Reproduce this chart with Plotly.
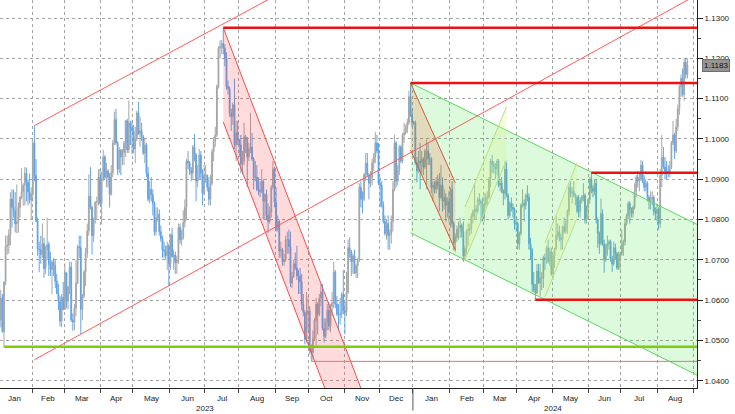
import numpy as np
import pandas as pd
import plotly.graph_objects as go

# ---------------- data (EUR/USD daily) ----------------
START = "2023-01-02"
FIRST_OPEN = 1.0705

highs = [
    # 2023 Jan
    1.0713, 1.0684, 1.0625, 1.0615, 1.0646, 1.0760, 1.0760, 1.0776, 1.0868, 1.0875, 1.0874,
    1.0868, 1.0887, 1.0842, 1.0858, 1.0927, 1.0890, 1.0930, 1.0929, 1.0900, 1.0914, 1.0880,
    # Feb
    1.0995, 1.1033, 1.0950, 1.0805, 1.0745, 1.0760, 1.0790, 1.0755, 1.0735, 1.0805,
    1.0745, 1.0720, 1.0700, 1.0705, 1.0700, 1.0665, 1.0640, 1.0610, 1.0615, 1.0645,
    # Mar
    1.0691, 1.0670, 1.0635, 1.0695, 1.0695, 1.0567, 1.0590, 1.0700, 1.0737, 1.0760, 1.0760, 1.0615,
    1.0675, 1.0730, 1.0790, 1.0912, 1.0930, 1.0835, 1.0805, 1.0845, 1.0857, 1.0925, 1.0925,
    # Apr
    1.0918, 1.0973, 1.0960, 1.0940, 1.0925, 1.0915, 1.0935, 1.0998, 1.1068, 1.1075,
    1.0995, 1.0980, 1.0975, 1.0975, 1.0995, 1.1047, 1.1050, 1.1095, 1.1045, 1.1045,
    # May
    1.1035, 1.1030, 1.1070, 1.1092, 1.1055, 1.1040, 1.1010, 1.1000, 1.0990, 1.0930, 1.0895, 1.0905,
    1.0875, 1.0845, 1.0830, 1.0830, 1.0825, 1.0785, 1.0760, 1.0745, 1.0735, 1.0745, 1.0740,
    # Jun
    1.0765, 1.0780, 1.0725, 1.0720, 1.0710, 1.0790, 1.0790, 1.0775, 1.0823, 1.0850, 1.0950,
    1.0970, 1.0945, 1.0930, 1.0985, 1.1012, 1.0965, 1.0935, 1.0975, 1.0970, 1.0925, 1.0935,
    # Jul
    1.0935, 1.0912, 1.0905, 1.0910, 1.0975, 1.1005, 1.1030, 1.1135, 1.1230, 1.1245, 1.1245,
    1.1276, 1.1235, 1.1215, 1.1145, 1.1130, 1.1075, 1.1090, 1.1150, 1.1045, 1.1045,
    # Aug
    1.1000, 1.1010, 1.0970, 1.1040, 1.1010, 1.1005, 1.0990, 1.1065, 1.1015, 1.0955, 1.0945, 1.0935,
    1.0905, 1.0895, 1.0925, 1.0900, 1.0865, 1.0875, 1.0840, 1.0832, 1.0885, 1.0945, 1.0930,
    # Sep
    1.0880, 1.0810, 1.0800, 1.0745, 1.0730, 1.0715, 1.0760, 1.0770, 1.0775, 1.0770, 1.0670,
    1.0700, 1.0718, 1.0735, 1.0675, 1.0680, 1.0665, 1.0615, 1.0575, 1.0620, 1.0610,
    # Oct
    1.0585, 1.0490, 1.0525, 1.0555, 1.0605, 1.0595, 1.0615, 1.0640, 1.0640, 1.0555, 1.0555,
    1.0590, 1.0595, 1.0590, 1.0620, 1.0695, 1.0675, 1.0610, 1.0590, 1.0605, 1.0620, 1.0675,
    # Nov
    1.0595, 1.0670, 1.0750, 1.0755, 1.0725, 1.0715, 1.0725, 1.0690, 1.0705, 1.0890, 1.0895,
    1.0870, 1.0915, 1.0965, 1.0965, 1.0915, 1.0920, 1.0950, 1.0965, 1.1017, 1.1010, 1.0990,
    # Dec
    1.0905, 1.0895, 1.0845, 1.0810, 1.0800, 1.0810, 1.0775, 1.0810, 1.0895, 1.1010, 1.0995,
    1.0935, 1.0985, 1.0985, 1.1015, 1.1040, 1.1035, 1.1050, 1.1120, 1.1139, 1.1075,
    # 2024 Jan
    1.1045, 1.1045, 1.0955, 1.0970, 1.0990, 1.0970, 1.0955, 1.0975, 1.0998, 1.0990, 1.0965, 1.0955,
    1.0895, 1.0895, 1.0905, 1.0910, 1.0915, 1.0935, 1.0905, 1.0875, 1.0865, 1.0855, 1.0870,
    # Feb
    1.0880, 1.0895, 1.0795, 1.0765, 1.0785, 1.0795, 1.0805, 1.0790, 1.0795, 1.0735, 1.0775,
    1.0790, 1.0790, 1.0815, 1.0825, 1.0888, 1.0835, 1.0855, 1.0865, 1.0850, 1.0855,
    # Mar
    1.0865, 1.0865, 1.0870, 1.0905, 1.0950, 1.0960, 1.0945, 1.0940, 1.0950, 1.0950, 1.0900,
    1.0905, 1.0875, 1.0945, 1.0942, 1.0865, 1.0845, 1.0855, 1.0840, 1.0830, 1.0800,
    # Apr
    1.0795, 1.0770, 1.0840, 1.0875, 1.0850, 1.0865, 1.0885, 1.0865, 1.0755, 1.0730, 1.0670,
    1.0640, 1.0690, 1.0690, 1.0690, 1.0670, 1.0710, 1.0715, 1.0735, 1.0750, 1.0730, 1.0730,
    # May
    1.0715, 1.0730, 1.0810, 1.0790, 1.0785, 1.0765, 1.0785, 1.0805, 1.0800, 1.0825, 1.0890, 1.0895,
    1.0880, 1.0895, 1.0865, 1.0860, 1.0860, 1.0855, 1.0860, 1.0890, 1.0865, 1.0835, 1.0852,
    # Jun
    1.0905, 1.0916, 1.0885, 1.0900, 1.0900, 1.0805, 1.0770, 1.0852, 1.0825, 1.0750,
    1.0740, 1.0760, 1.0750, 1.0750, 1.0710, 1.0745, 1.0740, 1.0720, 1.0720, 1.0720,
    # Jul
    1.0775, 1.0750, 1.0800, 1.0815, 1.0845, 1.0845, 1.0830, 1.0835, 1.0890, 1.0910, 1.0920, 1.0915,
    1.0948, 1.0945, 1.0910, 1.0900, 1.0895, 1.0860, 1.0870, 1.0870, 1.0860, 1.0830, 1.0840,
    # Aug
    1.0830, 1.0925, 1.1010, 1.0980, 1.0955, 1.0945, 1.0935, 1.0945, 1.0995, 1.1045,
    1.1015, 1.1050, 1.1085, 1.1135, 1.1160, 1.1175, 1.1200, 1.1202, 1.1200,
]

lows = [
    # 2023 Jan
    1.0653, 1.0520, 1.0532, 1.0520, 1.0483, 1.0637, 1.0713, 1.0715, 1.0735, 1.0780, 1.0805,
    1.0768, 1.0766, 1.0767, 1.0805, 1.0850, 1.0834, 1.0835, 1.0845, 1.0835, 1.0840, 1.0800,
    # Feb
    1.0845, 1.0895, 1.0794, 1.0710, 1.0669, 1.0690, 1.0705, 1.0655, 1.0665, 1.0700,
    1.0660, 1.0660, 1.0615, 1.0660, 1.0630, 1.0615, 1.0575, 1.0535, 1.0533, 1.0575,
    # Mar
    1.0576, 1.0580, 1.0577, 1.0615, 1.0546, 1.0524, 1.0525, 1.0560, 1.0640, 1.0705, 1.0516, 1.0550,
    1.0605, 1.0635, 1.0705, 1.0760, 1.0825, 1.0713, 1.0744, 1.0790, 1.0800, 1.0835, 1.0835,
    # Apr
    1.0788, 1.0895, 1.0900, 1.0880, 1.0880, 1.0830, 1.0860, 1.0905, 1.0985, 1.0985,
    1.0910, 1.0915, 1.0910, 1.0935, 1.0935, 1.0955, 1.0965, 1.0965, 1.0985, 1.0962,
    # May
    1.0965, 1.0940, 1.0995, 1.1010, 1.0980, 1.0995, 1.0960, 1.0940, 1.0905, 1.0845, 1.0840, 1.0845,
    1.0810, 1.0760, 1.0760, 1.0795, 1.0760, 1.0745, 1.0705, 1.0705, 1.0700, 1.0675, 1.0635,
    # Jun
    1.0675, 1.0705, 1.0675, 1.0665, 1.0665, 1.0690, 1.0740, 1.0735, 1.0750, 1.0780, 1.0800,
    1.0925, 1.0910, 1.0895, 1.0900, 1.0945, 1.0845, 1.0880, 1.0900, 1.0900, 1.0835, 1.0860,
    # Jul
    1.0890, 1.0870, 1.0835, 1.0835, 1.0885, 1.0945, 1.0980, 1.1005, 1.1125, 1.1200, 1.1210,
    1.1210, 1.1180, 1.1122, 1.1110, 1.1055, 1.1020, 1.1035, 1.0975, 1.0945, 1.0985,
    # Aug
    1.0955, 1.0915, 1.0912, 1.0935, 1.0965, 1.0880, 1.0945, 1.0965, 1.0945, 1.0875, 1.0895, 1.0870,
    1.0860, 1.0855, 1.0865, 1.0800, 1.0800, 1.0800, 1.0767, 1.0790, 1.0805, 1.0875, 1.0830,
    # Sep
    1.0770, 1.0770, 1.0705, 1.0705, 1.0685, 1.0685, 1.0695, 1.0715, 1.0715, 1.0632, 1.0630,
    1.0655, 1.0675, 1.0650, 1.0615, 1.0615, 1.0575, 1.0560, 1.0490, 1.0495, 1.0525,
    # Oct
    1.0465, 1.0448, 1.0450, 1.0500, 1.0485, 1.0515, 1.0560, 1.0585, 1.0525, 1.0495, 1.0505,
    1.0525, 1.0525, 1.0520, 1.0560, 1.0580, 1.0580, 1.0560, 1.0525, 1.0540, 1.0555, 1.0565,
    # Nov
    1.0515, 1.0560, 1.0615, 1.0705, 1.0660, 1.0665, 1.0665, 1.0655, 1.0655, 1.0695, 1.0830,
    1.0815, 1.0845, 1.0895, 1.0905, 1.0850, 1.0880, 1.0885, 1.0920, 1.0940, 1.0965, 1.0885,
    # Dec
    1.0830, 1.0830, 1.0790, 1.0760, 1.0750, 1.0725, 1.0725, 1.0740, 1.0770, 1.0870, 1.0880,
    1.0885, 1.0910, 1.0940, 1.0940, 1.0990, 1.1010, 1.1015, 1.1035, 1.1055, 1.1030,
    # 2024 Jan
    1.1035, 1.0935, 1.0892, 1.0915, 1.0875, 1.0915, 1.0910, 1.0925, 1.0875, 1.0935, 1.0935, 1.0865,
    1.0845, 1.0865, 1.0865, 1.0875, 1.0820, 1.0850, 1.0820, 1.0825, 1.0795, 1.0805, 1.0795,
    # Feb
    1.0780, 1.0780, 1.0723, 1.0720, 1.0745, 1.0750, 1.0755, 1.0755, 1.0695, 1.0700, 1.0715,
    1.0735, 1.0760, 1.0765, 1.0790, 1.0800, 1.0800, 1.0815, 1.0835, 1.0795, 1.0795,
    # Mar
    1.0795, 1.0830, 1.0835, 1.0850, 1.0880, 1.0915, 1.0915, 1.0900, 1.0910, 1.0880, 1.0870,
    1.0865, 1.0835, 1.0850, 1.0855, 1.0800, 1.0805, 1.0820, 1.0805, 1.0775, 1.0770,
    # Apr
    1.0725, 1.0725, 1.0760, 1.0830, 1.0795, 1.0825, 1.0845, 1.0725, 1.0700, 1.0620, 1.0620,
    1.0601, 1.0615, 1.0640, 1.0610, 1.0625, 1.0630, 1.0675, 1.0690, 1.0690, 1.0685, 1.0660,
    # May
    1.0650, 1.0680, 1.0725, 1.0750, 1.0745, 1.0725, 1.0725, 1.0765, 1.0765, 1.0765, 1.0810, 1.0855,
    1.0840, 1.0855, 1.0835, 1.0815, 1.0805, 1.0805, 1.0840, 1.0845, 1.0790, 1.0790, 1.0800,
    # Jun
    1.0840, 1.0865, 1.0855, 1.0860, 1.0790, 1.0730, 1.0715, 1.0735, 1.0735, 1.0668,
    1.0695, 1.0710, 1.0725, 1.0695, 1.0670, 1.0685, 1.0700, 1.0675, 1.0675, 1.0675,
    # Jul
    1.0710, 1.0710, 1.0735, 1.0785, 1.0800, 1.0790, 1.0805, 1.0805, 1.0825, 1.0855, 1.0880, 1.0870,
    1.0895, 1.0890, 1.0870, 1.0870, 1.0845, 1.0825, 1.0825, 1.0835, 1.0810, 1.0800, 1.0795,
    # Aug
    1.0775, 1.0780, 1.0880, 1.0925, 1.0900, 1.0900, 1.0905, 1.0905, 1.0925, 1.0985,
    1.0950, 1.0965, 1.1020, 1.1060, 1.1105, 1.1105, 1.1095, 1.1150, 1.1150,
]

closes = [
    # 2023 Jan
    1.0671, 1.0550, 1.0605, 1.0521, 1.0645, 1.0733, 1.0737, 1.0762, 1.0851, 1.0830, 1.0822,
    1.0789, 1.0795, 1.0830, 1.0855, 1.0869, 1.0885, 1.0915, 1.0892, 1.0868, 1.0848, 1.0863,
    # Feb
    1.0990, 1.0909, 1.0796, 1.0727, 1.0725, 1.0713, 1.0740, 1.0678, 1.0724, 1.0738,
    1.0689, 1.0676, 1.0695, 1.0686, 1.0647, 1.0616, 1.0596, 1.0548, 1.0607, 1.0577,
    # Mar
    1.0668, 1.0597, 1.0633, 1.0682, 1.0551, 1.0545, 1.0580, 1.0642, 1.0733, 1.0730, 1.0577, 1.0610,
    1.0670, 1.0717, 1.0772, 1.0858, 1.0830, 1.0760, 1.0800, 1.0843, 1.0844, 1.0905, 1.0840,
    # Apr
    1.0900, 1.0955, 1.0905, 1.0920, 1.0905, 1.0862, 1.0916, 1.0990, 1.1048, 1.0990,
    1.0925, 1.0972, 1.0955, 1.0966, 1.0990, 1.1045, 1.0973, 1.1040, 1.1027, 1.1020,
    # May
    1.0975, 1.1000, 1.1065, 1.1013, 1.1020, 1.1005, 1.0965, 1.0985, 1.0915, 1.0850, 1.0875, 1.0862,
    1.0840, 1.0770, 1.0805, 1.0813, 1.0770, 1.0752, 1.0724, 1.0722, 1.0710, 1.0735, 1.0690,
    # Jun
    1.0762, 1.0708, 1.0712, 1.0693, 1.0700, 1.0780, 1.0750, 1.0755, 1.0793, 1.0830, 1.0945,
    1.0940, 1.0922, 1.0915, 1.0980, 1.0960, 1.0895, 1.0905, 1.0960, 1.0915, 1.0865, 1.0910,
    # Jul
    1.0910, 1.0880, 1.0850, 1.0890, 1.0968, 1.0995, 1.1010, 1.1130, 1.1225, 1.1230, 1.1237,
    1.1225, 1.1200, 1.1130, 1.1125, 1.1065, 1.1055, 1.1085, 1.0985, 1.1015, 1.0998,
    # Aug
    1.0985, 1.0937, 1.0945, 1.1005, 1.1000, 1.0955, 1.0975, 1.0980, 1.0950, 1.0905, 1.0905, 1.0875,
    1.0873, 1.0870, 1.0895, 1.0845, 1.0862, 1.0810, 1.0795, 1.0818, 1.0880, 1.0925, 1.0843,
    # Sep
    1.0775, 1.0795, 1.0722, 1.0725, 1.0695, 1.0700, 1.0750, 1.0750, 1.0733, 1.0642, 1.0658,
    1.0690, 1.0680, 1.0660, 1.0660, 1.0645, 1.0590, 1.0570, 1.0502, 1.0565, 1.0573,
    # Oct
    1.0475, 1.0470, 1.0505, 1.0550, 1.0590, 1.0565, 1.0605, 1.0620, 1.0530, 1.0510, 1.0545,
    1.0575, 1.0535, 1.0585, 1.0593, 1.0670, 1.0590, 1.0565, 1.0565, 1.0565, 1.0615, 1.0575,
    # Nov
    1.0570, 1.0620, 1.0730, 1.0720, 1.0695, 1.0710, 1.0667, 1.0685, 1.0700, 1.0880, 1.0850,
    1.0850, 1.0912, 1.0940, 1.0910, 1.0890, 1.0905, 1.0940, 1.0955, 1.0990, 1.0970, 1.0890,
    # Dec
    1.0885, 1.0835, 1.0795, 1.0765, 1.0790, 1.0760, 1.0765, 1.0795, 1.0875, 1.0990, 1.0895,
    1.0920, 1.0980, 1.0945, 1.1010, 1.1015, 1.1025, 1.1040, 1.1105, 1.1060, 1.1040,
    # 2024 Jan
    1.1040, 1.0940, 1.0920, 1.0945, 1.0940, 1.0950, 1.0930, 1.0970, 1.0970, 1.0950, 1.0950, 1.0880,
    1.0885, 1.0875, 1.0895, 1.0885, 1.0855, 1.0885, 1.0845, 1.0855, 1.0835, 1.0845, 1.0818,
    # Feb
    1.0875, 1.0790, 1.0742, 1.0755, 1.0775, 1.0780, 1.0785, 1.0770, 1.0710, 1.0728, 1.0772,
    1.0775, 1.0778, 1.0808, 1.0820, 1.0825, 1.0820, 1.0850, 1.0845, 1.0840, 1.0805,
    # Mar
    1.0838, 1.0855, 1.0855, 1.0900, 1.0945, 1.0937, 1.0930, 1.0925, 1.0945, 1.0885, 1.0890,
    1.0870, 1.0865, 1.0925, 1.0860, 1.0810, 1.0840, 1.0830, 1.0825, 1.0790, 1.0790,
    # Apr
    1.0740, 1.0765, 1.0835, 1.0840, 1.0835, 1.0860, 1.0855, 1.0740, 1.0725, 1.0640, 1.0625,
    1.0618, 1.0672, 1.0643, 1.0655, 1.0655, 1.0705, 1.0700, 1.0730, 1.0695, 1.0720, 1.0665,
    # May
    1.0710, 1.0727, 1.0760, 1.0770, 1.0755, 1.0750, 1.0782, 1.0770, 1.0790, 1.0820, 1.0880, 1.0865,
    1.0870, 1.0860, 1.0855, 1.0820, 1.0820, 1.0848, 1.0855, 1.0860, 1.0800, 1.0830, 1.0850,
    # Jun
    1.0900, 1.0878, 1.0870, 1.0890, 1.0800, 1.0765, 1.0740, 1.0815, 1.0740, 1.0700,
    1.0735, 1.0740, 1.0745, 1.0700, 1.0690, 1.0730, 1.0715, 1.0680, 1.0700, 1.0715,
    # Jul
    1.0740, 1.0745, 1.0790, 1.0810, 1.0840, 1.0825, 1.0815, 1.0830, 1.0870, 1.0905, 1.0895, 1.0900,
    1.0935, 1.0895, 1.0880, 1.0890, 1.0855, 1.0845, 1.0850, 1.0855, 1.0820, 1.0815, 1.0825,
    # Aug
    1.0790, 1.0910, 1.0955, 1.0930, 1.0920, 1.0920, 1.0915, 1.0930, 1.0990, 1.1010,
    1.0970, 1.1030, 1.1075, 1.1130, 1.1150, 1.1110, 1.1190, 1.1160, 1.1183,
]

LAST_PRICE = 1.1183
Y_TICKS = [1.04, 1.05, 1.06, 1.07, 1.08, 1.09, 1.10, 1.11, 1.12, 1.13]
MONTH_RANGE = ("2023-01-01", "2024-09-01")

# drawn levels (start date, price)
RED_LEVEL_STARTS = ["2023-07-18", "2023-12-28", "2024-06-04", "2024-04-16"]
RED_LEVELS = [1.1276, 1.1139, 1.0916, 1.0601]
GREEN_LEVEL = ("2023-01-06", 1.0484)
THIN_LEVEL = ("2023-10-03", 1.0448)
LINE_END = "2024-09-09"

# long rising channel: (start, end) dates with prices
RISE_UPPER = (("2023-02-02", 1.1033), ("2023-09-11", 1.1369))
RISE_LOWER = (("2023-02-02", 1.0452), ("2024-09-09", 1.1364))

# parallelogram channels: start, end, top@start, bottom@start, top@end, bottom@end
PINK_CH = ("2023-07-18", "2023-11-16", 1.1276, 1.1042, 1.0371, 1.0137)
GREEN_CH = ("2023-12-28", "2024-09-09", 1.1139, 1.0767, 1.0782, 1.0408)
TAN_CH = ("2023-12-28", "2024-02-06", 1.1139, 1.0972, 1.0891, 1.0724)
RISE_CH1 = ("2024-02-14", "2024-03-21", 1.0831, 1.0700, 1.1080, 1.0948)
RISE_CH2 = ("2024-04-24", "2024-05-22", 1.0742, 1.0608, 1.0941, 1.0803)

# ---------------- build ----------------
opens = [FIRST_OPEN] + closes[:-1]
n = len(closes)
xi = np.arange(n)


def bi(d):
    return int(np.busday_count(np.datetime64(START, "D"), np.datetime64(d, "D")))


X_RANGE = [1.5, 437.0]
Y_RANGE = [1.03819, 1.13447]

month_starts = pd.date_range(MONTH_RANGE[0], MONTH_RANGE[1], freq="MS")
bounds = [bi(np.busday_offset(np.datetime64(d.date(), "D"), 0, roll="forward")) - 0.5
          for d in month_starts]

FONT = "Liberation Sans"

fig = go.Figure()
fig.add_trace(go.Candlestick(
    x=xi, open=opens, high=highs, low=lows, close=closes,
    increasing=dict(line=dict(color="#a6a6a6", width=1), fillcolor="#979797"),
    decreasing=dict(line=dict(color="#5fa5ec", width=1), fillcolor="#3a8be0"),
    whiskerwidth=0, hoverinfo="skip", showlegend=False,
))

shapes = []


def seg(p0, p1, color, width):
    shapes.append(dict(type="line", xref="x", yref="y", x0=bi(p0[0]), y0=p0[1],
                       x1=bi(p1[0]), y1=p1[1], line=dict(color=color, width=width),
                       layer="above"))


def channel(ch, fill, edge, width=1):
    s, e, ts, bs, te, be = ch
    x0, x1 = bi(s), bi(e)
    shapes.append(dict(type="path", xref="x", yref="y",
                       path=f"M {x0},{ts} L {x1},{te} L {x1},{be} L {x0},{bs} Z",
                       fillcolor=fill, line=dict(width=0), layer="above"))
    seg((s, ts), (e, te), edge, width)
    seg((s, bs), (e, be), edge, width)


channel(GREEN_CH, "rgba(40,225,40,0.16)", "#5ada5a")
channel(PINK_CH, "rgba(255,40,40,0.17)", "#ff4a4a")
channel(TAN_CH, "rgba(255,60,30,0.17)", "#d8563a")
channel(RISE_CH1, "rgba(215,245,150,0.30)", "#b9de7e")
channel(RISE_CH2, "rgba(215,245,150,0.30)", "#bfdf8a")

seg(*RISE_UPPER, "#ff5a5a", 1)
seg(*RISE_LOWER, "#ff5a5a", 1)

seg((GREEN_LEVEL[0], GREEN_LEVEL[1]), (LINE_END, GREEN_LEVEL[1]), "#7ccc10", 2.5)
seg((THIN_LEVEL[0], THIN_LEVEL[1]), (LINE_END, THIN_LEVEL[1]), "#f07070", 1)
for d, p in zip(RED_LEVEL_STARTS, RED_LEVELS):
    seg((d, p), (LINE_END, p), "#ee1111", 2.5)

# year separator tick below the axis
year_b = bounds[12]
shapes.append(dict(type="line", xref="paper", yref="paper",
                   x0=(year_b - X_RANGE[0]) / (X_RANGE[1] - X_RANGE[0]),
                   x1=(year_b - X_RANGE[0]) / (X_RANGE[1] - X_RANGE[0]),
                   y0=0, y1=-0.058, line=dict(color="#555555", width=1)))

annotations = []
for i in range(len(bounds) - 1):
    mid = (bounds[i] + bounds[i + 1]) / 2
    annotations.append(dict(x=mid, xref="x", y=0, yref="paper", yshift=-10,
                            text=month_starts[i].strftime("%b"), showarrow=False,
                            font=dict(family=FONT, size=8, color="#222222"),
                            xanchor="center", yanchor="middle"))
for y0, y1, label in [(0, 12, "2023"), (12, 20, "2024")]:
    annotations.append(dict(x=(bounds[y0] + bounds[y1]) / 2, xref="x", y=0, yref="paper",
                            yshift=-20, text=label, showarrow=False,
                            font=dict(family=FONT, size=8, color="#222222"),
                            xanchor="center", yanchor="middle"))
annotations.append(dict(x=1, xref="paper", xshift=5, y=LAST_PRICE, yref="y",
                        text=f"{LAST_PRICE:.4f}", showarrow=False, xanchor="left",
                        yanchor="middle", bgcolor="#949494", bordercolor="#6e6e6e",
                        borderwidth=1, borderpad=1,
                        font=dict(family=FONT, size=8, color="#111111")))

fig.update_layout(
    width=735, height=414,
    margin=dict(l=0, r=38, t=0, b=26),
    paper_bgcolor="white", plot_bgcolor="white",
    showlegend=False, shapes=shapes, annotations=annotations,
    xaxis=dict(range=X_RANGE, tickmode="array", tickvals=bounds,
               ticktext=[""] * len(bounds), ticks="outside", ticklen=4,
               tickcolor="#444444", showgrid=True, gridcolor="#a4a4a4",
               griddash="dot", gridwidth=1, showline=True, linecolor="#222222",
               linewidth=1, zeroline=False, rangeslider=dict(visible=False),
               fixedrange=True),
    yaxis=dict(range=Y_RANGE, side="right", tickmode="array", tickvals=Y_TICKS,
               ticktext=[f"{v:.4f}" for v in Y_TICKS], ticks="outside", ticklen=5,
               tickcolor="#222222", showgrid=True, gridcolor="#a4a4a4",
               griddash="dot", gridwidth=1, showline=True, linecolor="#222222",
               linewidth=1, zeroline=False,
               tickfont=dict(family=FONT, size=8, color="#222222"),
               minor=dict(tickmode="linear", tick0=1.035, dtick=0.01, ticks="outside",
                          ticklen=3, tickcolor="#444444", showgrid=False),
               fixedrange=True),
)

fig.write_html("out.html",
               config={"displayModeBar": False},
               post_script="document.body.style.margin='0px';"
                           "document.body.style.overflow='hidden';")
